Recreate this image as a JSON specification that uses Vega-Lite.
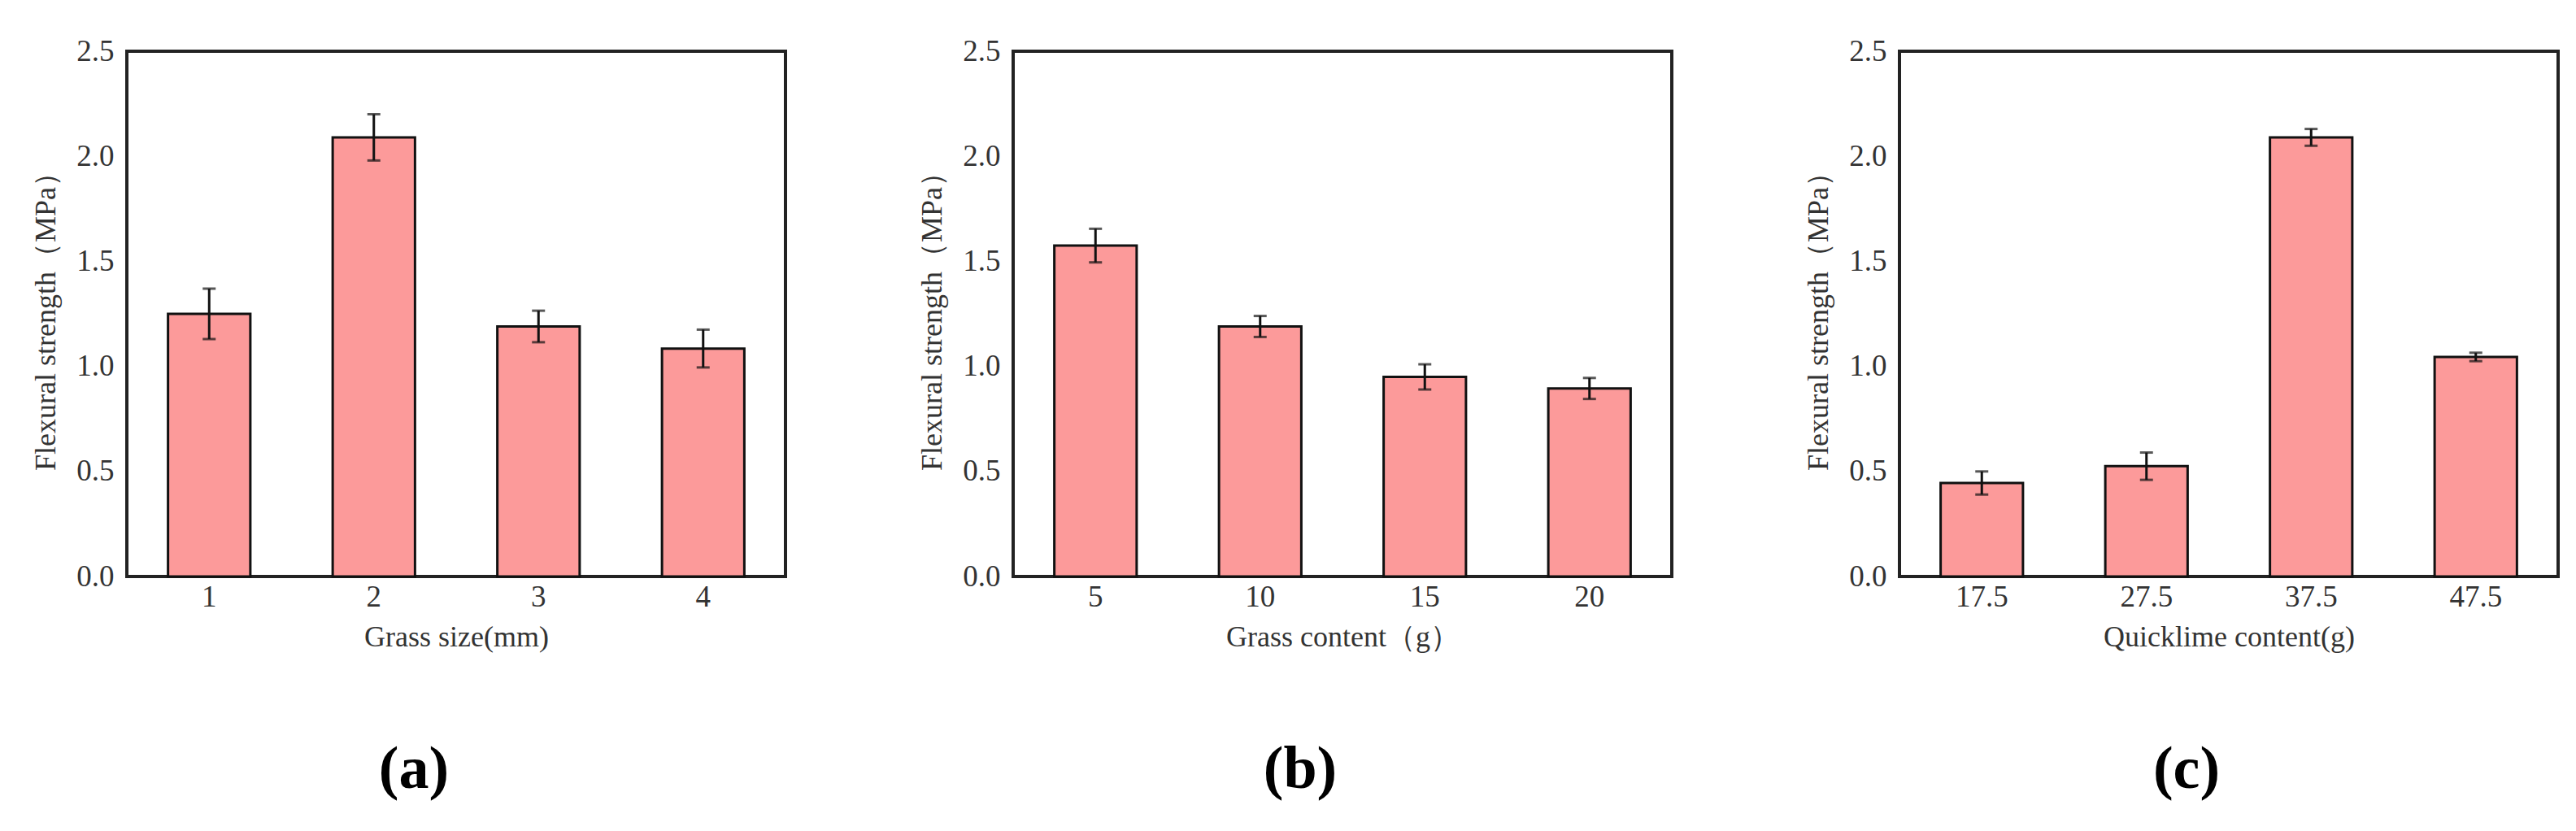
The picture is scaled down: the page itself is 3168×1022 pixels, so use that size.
{
  "$schema": "https://vega.github.io/schema/vega-lite/v6.json",
  "background": "white",
  "padding": {"left": 36, "top": 42, "right": 0, "bottom": 0},
  "spacing": 280,
  "bounds": "flush",
  "datasets": {
    "a": [
      {"k": "1", "v": 1.25, "e": 0.12},
      {"k": "2", "v": 2.09, "e": 0.11},
      {"k": "3", "v": 1.19, "e": 0.075},
      {"k": "4", "v": 1.085, "e": 0.09}
    ],
    "b": [
      {"k": "5", "v": 1.575, "e": 0.08},
      {"k": "10", "v": 1.19, "e": 0.05},
      {"k": "15", "v": 0.95, "e": 0.06},
      {"k": "20", "v": 0.895, "e": 0.05}
    ],
    "c": [
      {"k": "17.5", "v": 0.445, "e": 0.055},
      {"k": "27.5", "v": 0.525, "e": 0.065},
      {"k": "37.5", "v": 2.09, "e": 0.04},
      {"k": "47.5", "v": 1.045, "e": 0.02}
    ]
  },
  "config": {
    "view": {"stroke": "#222", "strokeWidth": 4},
    "axis": {
      "labelFont": "Liberation Serif", "labelFontSize": 37, "labelColor": "#333",
      "titleFont": "Liberation Serif", "titleFontSize": 36, "titleColor": "#333", "titleFontWeight": "normal",
      "grid": false, "domain": false
    },
    "axisX": {"tickSize": -11, "tickWidth": 3, "tickColor": "#222", "labelPadding": 18, "labelAngle": 0, "titlePadding": 14},
    "axisY": {"ticks": false, "labelPadding": 16, "titlePadding": 18},
    "title": {"orient": "bottom", "anchor": "middle", "frame": "group", "fontSize": 74, "font": "Liberation Serif", "fontWeight": "bold", "offset": 110, "dx": -52, "color": "#000"}
  },
  "hconcat": [
    {
      "width": 810, "height": 646,
      "data": {"name": "a"},
      "title": {"text": "(a)"},
      "encoding": {"x": {"field": "k", "type": "nominal", "sort": null, "title": "Grass size(mm)", "scale": {"paddingInner": 0.5, "paddingOuter": 0.25}}},
      "layer": [
        {"mark": {"type": "bar", "fill": "#FC9A9A", "stroke": "#111", "strokeWidth": 3},
         "encoding": {"y": {"field": "v", "type": "quantitative", "title": "Flexural strength（MPa）", "scale": {"domain": [0, 2.5], "nice": false}, "axis": {"values": [0, 0.5, 1, 1.5, 2, 2.5], "format": ".1f"}}}},
        {"mark": {"type": "errorbar", "ticks": {"size": 16, "thickness": 3, "color": "#111"}, "rule": {"strokeWidth": 3, "color": "#111"}},
         "encoding": {"y": {"field": "v", "type": "quantitative", "title": "Flexural strength（MPa）"}, "yError": {"field": "e"}}}
      ]
    },
    {
      "width": 810, "height": 646,
      "data": {"name": "b"},
      "title": {"text": "(b)"},
      "encoding": {"x": {"field": "k", "type": "nominal", "sort": null, "title": "Grass content（g）", "scale": {"paddingInner": 0.5, "paddingOuter": 0.25}}},
      "layer": [
        {"mark": {"type": "bar", "fill": "#FC9A9A", "stroke": "#111", "strokeWidth": 3},
         "encoding": {"y": {"field": "v", "type": "quantitative", "title": "Flexural strength（MPa）", "scale": {"domain": [0, 2.5], "nice": false}, "axis": {"values": [0, 0.5, 1, 1.5, 2, 2.5], "format": ".1f"}}}},
        {"mark": {"type": "errorbar", "ticks": {"size": 16, "thickness": 3, "color": "#111"}, "rule": {"strokeWidth": 3, "color": "#111"}},
         "encoding": {"y": {"field": "v", "type": "quantitative", "title": "Flexural strength（MPa）"}, "yError": {"field": "e"}}}
      ]
    },
    {
      "width": 810, "height": 646,
      "data": {"name": "c"},
      "title": {"text": "(c)"},
      "encoding": {"x": {"field": "k", "type": "nominal", "sort": null, "title": "Quicklime content(g)", "scale": {"paddingInner": 0.5, "paddingOuter": 0.25}}},
      "layer": [
        {"mark": {"type": "bar", "fill": "#FC9A9A", "stroke": "#111", "strokeWidth": 3},
         "encoding": {"y": {"field": "v", "type": "quantitative", "title": "Flexural strength（MPa）", "scale": {"domain": [0, 2.5], "nice": false}, "axis": {"values": [0, 0.5, 1, 1.5, 2, 2.5], "format": ".1f"}}}},
        {"mark": {"type": "errorbar", "ticks": {"size": 16, "thickness": 3, "color": "#111"}, "rule": {"strokeWidth": 3, "color": "#111"}},
         "encoding": {"y": {"field": "v", "type": "quantitative", "title": "Flexural strength（MPa）"}, "yError": {"field": "e"}}}
      ]
    }
  ]
}
